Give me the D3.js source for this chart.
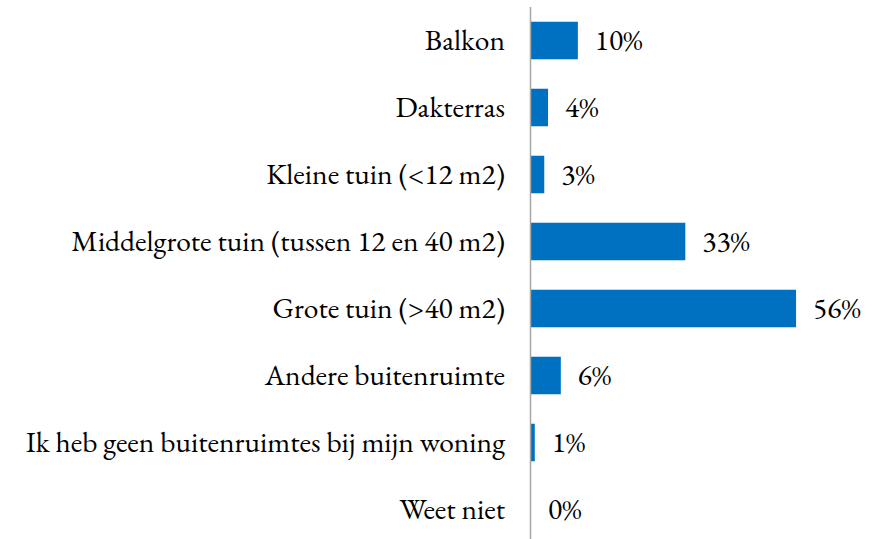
<!DOCTYPE html>
<html>
<head>
<meta charset="utf-8">
<script src="https://cdn.jsdelivr.net/npm/d3@7"></script>
<style>
  body { margin: 0; background: #fff; }
  svg { display: block; }
  text { font-family: 'Garamond', 'EB Garamond', 'Liberation Serif', 'Times New Roman', 'Tinos', 'Noto Serif', 'DejaVu Serif', 'FreeSerif', serif; }
</style>
</head>
<body>
<svg width="885" height="539"></svg>
<script>
  // categories and shares
  var categories = [
      'Balkon',
      'Dakterras',
      'Kleine tuin (<12 m2)',
      'Middelgrote tuin (tussen 12 en 40 m2)',
      'Grote tuin (>40 m2)',
      'Andere buitenruimte',
      'Ik heb geen buitenruimtes bij mijn woning',
      'Weet niet'
  ]
  var shares = [0.099, 0.036, 0.028, 0.326, 0.56, 0.063, 0.008, 0]

  var chart = {
      axisX: 531,
      labelGap: 26,
      valueGap: 17,
      fontSize: 29.5
  }

  var svg = d3.select('svg')

  var x = d3.scaleLinear()
      .domain([0, 0.6])
      .range([chart.axisX, chart.axisX + 284])

  var y = d3.scaleBand()
      .domain(categories)
      .range([7, 543])
      .paddingInner(0.44)
      .paddingOuter(0.22)

  var rows = categories.map(function(c, i) {
      return { name: c, value: shares[i] }
  })

  // bars
  svg.selectAll('rect.bar')
      .data(rows)
      .enter()
      .append('rect')
      .attr('class', 'bar')
      .attr('x', x(0))
      .attr('y', function(d) { return y(d.name) })
      .attr('width', function(d) { return x(d.value) - x(0) })
      .attr('height', y.bandwidth())
      .attr('fill', '#0070C0')

  // category labels
  svg.selectAll('text.cat')
      .data(rows)
      .enter()
      .append('text')
      .attr('class', 'cat')
      .attr('x', chart.axisX - chart.labelGap)
      .attr('y', function(d) { return y(d.name) + y.bandwidth() / 2 })
      .attr('dy', '0.33em')
      .attr('text-anchor', 'end')
      .attr('font-size', chart.fontSize)
      .attr('fill', '#000')
      .text(function(d) { return d.name })

  // value labels
  var fmt = d3.format('.0%')
  svg.selectAll('text.val')
      .data(rows)
      .enter()
      .append('text')
      .attr('class', 'val')
      .attr('x', function(d) { return x(d.value) + chart.valueGap })
      .attr('y', function(d) { return y(d.name) + y.bandwidth() / 2 })
      .attr('dy', '0.33em')
      .attr('font-size', chart.fontSize)
      .attr('fill', '#000')
      .text(function(d) { return fmt(d.value) })

  // vertical axis line
  svg.append('line')
      .attr('x1', chart.axisX - 0.5)
      .attr('x2', chart.axisX - 0.5)
      .attr('y1', y.range()[0])
      .attr('y2', y.range()[1])
      .style('stroke', '#A6A6A6')
      .style('stroke-width', '1.5px')
</script>
</body>
</html>
